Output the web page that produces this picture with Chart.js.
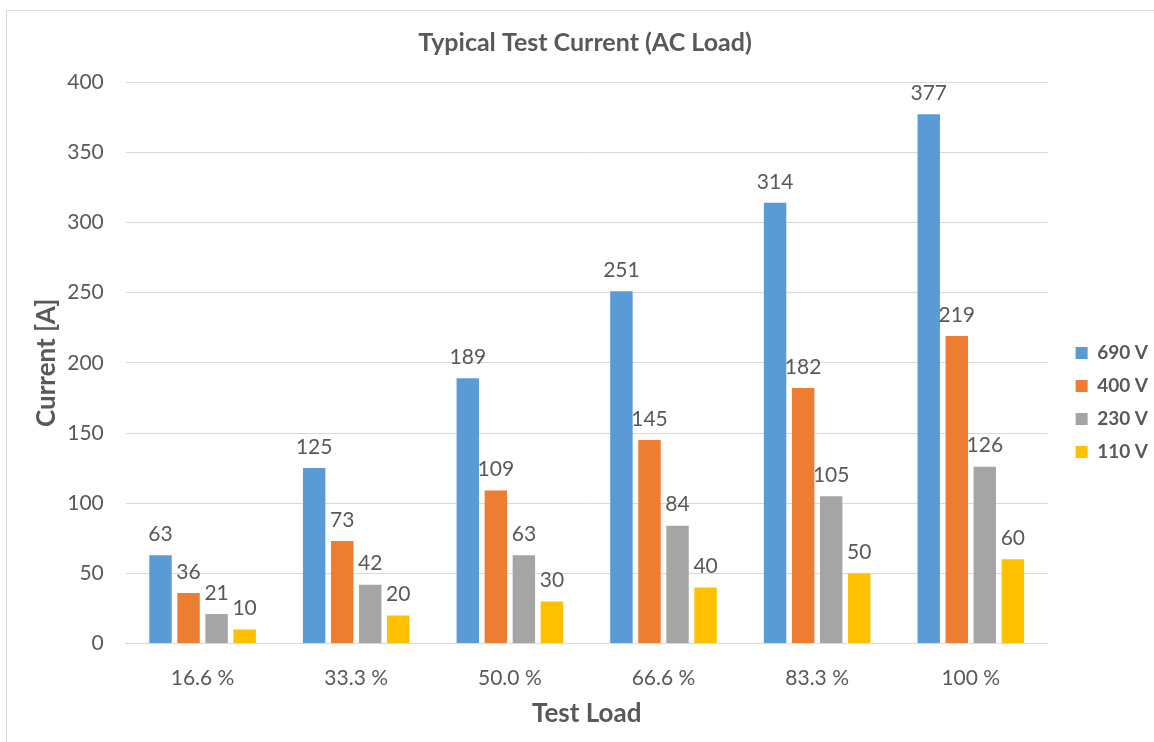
<!DOCTYPE html>
<html>
<head>
<meta charset="utf-8">
<script src="https://cdn.jsdelivr.net/npm/chart.js@4.4.1/dist/chart.umd.min.js"></script>
<style>
  html, body { margin: 0; padding: 0; background: #fff; }
  #wrap { position: absolute; left: 0; top: 0; width: 1154px; height: 742px; }
  #frame { position: absolute; left: 6px; top: 10px; width: 1160px; height: 760px; border: 1px solid #d9d9d9; box-sizing: border-box; }
</style>
</head>
<body>
<div id="wrap">
  <div id="frame"></div>
  <canvas id="bar-chart" width="1154" height="742"></canvas>
</div>
<script>
var categories = ['16.6 %', '33.3 %', '50.0 %', '66.6 %', '83.3 %', '100 %'];
var series_names = ['690 V', '400 V', '230 V', '110 V'];
var values_690 = [63, 125, 189, 251, 314, 377];
var values_400 = [36, 73, 109, 145, 182, 219];
var values_230 = [21, 42, 63, 84, 105, 126];
var values_110 = [10, 20, 30, 40, 50, 60];
var colors = ['#5B9BD5', '#ED7D31', '#A5A5A5', '#FFC000'];

var textColor = '#595959';
var fontName = 'Lato, Carlito, "Liberation Sans", sans-serif';

// value labels on top of each bar
var barLabels = {
  id: 'barLabels',
  afterDatasetsDraw: function(chart) {
    var ctx = chart.ctx;
    ctx.save();
    ctx.font = '21px ' + fontName;
    ctx.fillStyle = textColor;
    ctx.textAlign = 'center';
    ctx.textBaseline = 'middle';
    chart.data.datasets.forEach(function(ds, i) {
      var meta = chart.getDatasetMeta(i);
      meta.data.forEach(function(bar, j) {
        ctx.fillText(ds.data[j], bar.x, bar.y - 21);
      });
    });
    ctx.restore();
  }
};

// nudge legend and title a bit to the right, like the original
var nudge = {
  id: 'nudge',
  afterLayout: function(chart) {
    chart.legend.left += 14;
    chart.legend.right += 14;
    chart.titleBlock.left += 9;
    chart.titleBlock.right += 9;
  }
};

var all_values = [values_690, values_400, values_230, values_110];
var datasets = [];
for (let i = 0; i < series_names.length; i++) {
  datasets.push({
    label: series_names[i],
    data: all_values[i],
    backgroundColor: colors[i],
    categoryPercentage: 0.73,
    barPercentage: 0.8
  });
}

Chart.defaults.font.family = fontName;
Chart.defaults.color = textColor;

new Chart(document.getElementById('bar-chart'), {
  type: 'bar',
  data: { labels: categories, datasets: datasets },
  plugins: [barLabels, nudge],
  options: {
    responsive: false,
    animation: false,
    layout: { padding: { left: 8, right: 10, top: 10, bottom: 7 } },
    plugins: {
      title: {
        display: true,
        text: 'Typical Test Current (AC Load)',
        color: textColor,
        font: { size: 25, weight: 'bold' },
        padding: { top: 18, bottom: 24 }
      },
      legend: {
        position: 'right',
        title: { display: true, text: '', font: { size: 10 }, padding: { top: 48, bottom: 0 } },
        labels: {
          boxWidth: 12,
          boxHeight: 12,
          padding: 14,
          color: textColor,
          font: { size: 19, weight: 'bold' }
        }
      },
      tooltip: { enabled: false }
    },
    scales: {
      x: {
        grid: { display: false },
        border: { color: '#d9d9d9' },
        ticks: { font: { size: 21 }, color: textColor, padding: 14 },
        title: { display: true, text: 'Test Load', color: textColor, font: { size: 26, weight: 'bold' }, padding: { top: -7, bottom: 6 } }
      },
      y: {
        min: 0,
        max: 400,
        ticks: { stepSize: 50, font: { size: 21 }, color: textColor, padding: 22 },
        grid: { color: '#d9d9d9', drawTicks: false },
        border: { display: false },
        title: { display: true, text: 'Current [A]', color: textColor, font: { size: 26, weight: 'bold' }, padding: { top: 23, bottom: -17 } }
      }
    }
  }
});
</script>
</body>
</html>
